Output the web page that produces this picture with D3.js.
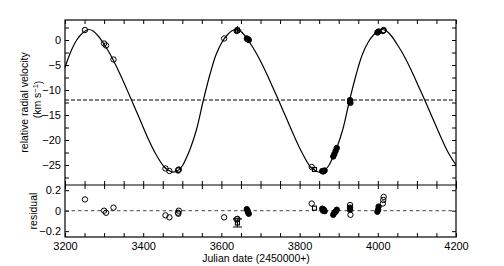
<!DOCTYPE html>
<html>
<head>
<meta charset="utf-8">
<script src="https://cdn.jsdelivr.net/npm/d3@7"></script>
<style>
  body { margin: 0; background: #fff; }
  svg text { font-family: "Liberation Sans", Arial, sans-serif; fill: #000; }
</style>
</head>
<body>
<div id="chart"></div>
<script>
'use strict';

// tick labels
const dateTicks = [3200, 3400, 3600, 3800, 4000, 4200];
const velTicks = [0, -5, -10, -15, -20, -25];
const resTicks = [0.2, 0, -0.2];
const systemicVel = -12;

// orbit fit
const modelDate = [3200, 3215, 3230, 3245, 3260, 3272, 3285, 3298, 3310, 3322, 3340, 3355, 3370, 3390, 3410,
  3432, 3454, 3464, 3474, 3487, 3499, 3512, 3521, 3536, 3554, 3571, 3586, 3601, 3616, 3626, 3636, 3648,
  3661, 3674, 3686, 3698, 3716, 3731, 3746, 3766, 3786, 3806, 3828, 3838, 3848, 3861, 3873, 3886, 3895,
  3910, 3928, 3945, 3960, 3975, 3990, 4000, 4010, 4022, 4035, 4048, 4060, 4072, 4090, 4105, 4120, 4140,
  4160, 4180, 4200];
const modelVel = [-5.5, -2.3, 0.0, 1.4, 2.1, 1.8, 0.8, -0.6, -2.1, -3.8, -6.7, -9.3, -12.0, -15.6, -19.3,
  -22.8, -25.4, -26.0, -26.4, -26.2, -25.3, -23.3, -21.6, -18.0, -12.0, -6.8, -3.0, -0.5, 1.1, 1.8, 2.1, 1.8,
  0.8, -0.7, -2.2, -3.9, -6.8, -9.4, -12.0, -15.6, -19.2, -22.5, -25.4, -26.0, -26.4, -26.2, -25.3, -23.3, -21.6,
  -18.0, -12.0, -6.8, -3.0, -0.5, 1.1, 1.8, 2.1, 1.8, 0.8, -0.7, -2.2, -3.9, -6.8, -9.4, -12.0, -15.6,
  -19.2, -22.5, -25.0];

// observations
const obsDate = [3251, 3300, 3305, 3324, 3457, 3467, 3489, 3490, 3491, 3607, 3639, 3641,
  3665, 3667, 3668, 3670, 3831, 3858, 3860, 3862, 3864, 3886, 3889, 3892, 3895,
  3929, 3929, 3929, 3930, 3999, 4001, 4002, 4013, 4014, 4015];
const obsVel = [2.0, -0.7, -1.1, -3.9, -25.7, -26.2, -26.1, -26.0, -25.9, 0.3, 1.8, 1.9,
  0.3, 0.2, 0.1, 0.0, -25.4, -26.2, -26.3, -26.2, -26.1, -23.3, -22.8, -22.2, -21.6,
  -12.0, -12.2, -12.4, -12.6, 1.5, 1.6, 1.7, 1.8, 1.9, 2.0];
const obsRes = [0.11, 0.0, -0.02, 0.03, -0.045, -0.065, -0.02, -0.03, 0.0, -0.065, -0.085, -0.08,
  0.015, 0.0, -0.015, -0.03, 0.07, 0.02, 0.0, 0.01, -0.005, -0.04, -0.02, -0.01, 0.01,
  0.055, 0.03, 0.01, -0.04, -0.01, 0.01, 0.04, 0.07, 0.105, 0.135];
const obsFilled = [0, 0, 0, 0, 0, 0, 0, 0, 0, 0, 0, 0,
  1, 1, 1, 1, 0, 1, 1, 1, 1, 1, 1, 1, 1,
  0, 1, 1, 0, 1, 1, 1, 0, 0, 0];

// second instrument (squares, with error bars)
const sqDate = [3641, 3838];
const sqVel = [2.0, -25.9];
const sqRes = [-0.12, 0.025];
const sqErrVel = [0.8, 0];
const sqErrRes = [0.04, 0];

(function() {

  const W = 504, H = 266;
  const left = 65, right = 456, top = 20, mid = 185, bottom = 237;

  const svg = d3.select('#chart').append('svg')
    .attr('width', W)
    .attr('height', H);

  let x = d3.scaleLinear().domain([3200, 4200]).range([left, right]);
  let yV = d3.scaleLinear().domain([-29, 4]).range([mid, top]);
  let yR = d3.scaleLinear().domain([-0.257, 0.251]).range([bottom, mid]);

  let dateMinor = d3.range(3200, 4201, 50);
  let velMinor = d3.range(-27.5, 3, 2.5);

  // ticks, all pointing inward
  function ticks(g, axis) {
    g.call(axis);
    g.select('.domain').remove();
    g.selectAll('.tick line').attr('stroke', '#000');
  }
  function noLabels(g) { g.selectAll('text').remove(); }
  let minus = d => d < 0 ? '\u2212' + Math.abs(d) : d;

  svg.append('g').attr('transform', `translate(0,${top})`)
    .call(ticks, d3.axisTop(x).tickValues(dateMinor).tickSize(-4)).call(noLabels);
  svg.append('g').attr('transform', `translate(0,${mid})`)
    .call(ticks, d3.axisBottom(x).tickValues(dateMinor).tickSize(-4)).call(noLabels);
  svg.append('g').attr('transform', `translate(0,${mid})`)
    .call(ticks, d3.axisTop(x).tickValues(dateMinor).tickSize(-4)).call(noLabels);
  let xAxis = svg.append('g').attr('transform', `translate(0,${bottom})`)
    .call(ticks, d3.axisBottom(x).tickValues(dateMinor).tickSize(-4).tickPadding(5)
      .tickFormat(d => dateTicks.includes(d) ? d : ''));
  xAxis.selectAll('text').style('font-size', '11px');

  svg.append('g').attr('transform', `translate(${left},0)`)
    .call(ticks, d3.axisLeft(yV).tickValues(velMinor).tickSize(-4)).call(noLabels);
  svg.append('g').attr('transform', `translate(${right},0)`)
    .call(ticks, d3.axisRight(yV).tickValues(velMinor).tickSize(-4)).call(noLabels);
  let vAxis = svg.append('g').attr('transform', `translate(${left},0)`)
    .call(ticks, d3.axisLeft(yV).tickValues(velTicks).tickSize(0).tickPadding(4).tickFormat(minus));
  vAxis.selectAll('text').style('font-size', '11px');

  svg.append('g').attr('transform', `translate(${left},0)`)
    .call(ticks, d3.axisLeft(yR).tickValues(resTicks).tickSize(-4).tickPadding(4).tickFormat(minus))
    .selectAll('text').style('font-size', '11px');
  svg.append('g').attr('transform', `translate(${right},0)`)
    .call(ticks, d3.axisRight(yR).tickValues(resTicks).tickSize(-4)).call(noLabels);

  // frames
  svg.append('rect')
    .attr('x', left).attr('y', top)
    .attr('width', right - left).attr('height', bottom - top)
    .attr('fill', 'none').attr('stroke', '#000').attr('stroke-width', 1.2);
  svg.append('line')
    .attr('x1', left).attr('x2', right)
    .attr('y1', mid).attr('y2', mid)
    .attr('stroke', '#000').attr('stroke-width', 1.2);

  // reference lines
  svg.append('line')
    .attr('x1', left).attr('x2', right)
    .attr('y1', yV(systemicVel)).attr('y2', yV(systemicVel))
    .attr('stroke', '#000').attr('stroke-dasharray', '4,2');
  svg.append('line')
    .attr('x1', left).attr('x2', right)
    .attr('y1', yR(0)).attr('y2', yR(0))
    .attr('stroke', '#444').attr('stroke-dasharray', '3.5,3');

  // fitted curve
  let model = modelDate.map((d, i) => ({ date: d, vel: modelVel[i] }));
  svg.append('path')
    .datum(model)
    .attr('fill', 'none')
    .attr('stroke', '#000')
    .attr('stroke-width', 1.2)
    .attr('d', d3.line()
      .x(d => x(d.date))
      .y(d => yV(d.vel))
      .curve(d3.curveCatmullRom.alpha(0.5)));

  let obs = obsDate.map((d, i) => ({ date: d, vel: obsVel[i], res: obsRes[i], filled: obsFilled[i] }));
  let sq = sqDate.map((d, i) => ({ date: d, vel: sqVel[i], res: sqRes[i], ev: sqErrVel[i], er: sqErrRes[i] }));

  // crossBar: draw the bar's cross stroke through the point instead of end caps
  function drawPanel(yScale, key, errKey, crossBar) {
    let g = svg.append('g');
    g.selectAll('.sq-err')
      .data(sq.filter(d => d[errKey] > 0))
      .enter()
      .append('path')
        .attr('fill', 'none')
        .attr('stroke', '#000')
        .attr('stroke-width', 1.1)
        .attr('d', d => {
          let cx = x(d.date), cy = yScale(d[key]);
          let y1 = yScale(d[key] - d[errKey]), y2 = yScale(d[key] + d[errKey]);
          if (crossBar) return `M${cx},${y1}V${y2}M${cx - 4},${cy}H${cx + 4}`;
          return `M${cx},${y1}V${y2}M${cx - 4.5},${y1}H${cx + 4.5}M${cx - 4.5},${y2}H${cx + 4.5}`;
        });
    g.selectAll('.sq')
      .data(sq)
      .enter()
      .append('rect')
        .attr('x', d => x(d.date) - 2)
        .attr('y', d => yScale(d[key]) - 2)
        .attr('width', 4)
        .attr('height', 4)
        .attr('fill', 'none')
        .attr('stroke', '#000')
        .attr('stroke-width', 1.1);
    g.selectAll('.dot')
      .data(obs)
      .enter()
      .append('circle')
        .attr('cx', d => x(d.date))
        .attr('cy', d => yScale(d[key]))
        .attr('r', 2.7)
        .attr('fill', d => d.filled ? '#000' : 'none')
        .attr('stroke', '#000')
        .attr('stroke-width', 1);
  }
  drawPanel(yV, 'vel', 'ev', true);
  drawPanel(yR, 'res', 'er', false);

  // labels
  svg.append('text')
    .attr('transform', `translate(28,${(top + mid) / 2})rotate(-90)`)
    .attr('text-anchor', 'middle')
    .style('font-size', '10.5px')
    .text('relative radial velocity');

  let unitLabel = svg.append('text')
    .attr('transform', `translate(41,${(top + mid) / 2 - 3})rotate(-90)`)
    .attr('text-anchor', 'middle')
    .style('font-size', '10.5px');
  unitLabel.append('tspan').text('(km s');
  unitLabel.append('tspan').attr('dy', '-0.45em').style('font-size', '7.5px').text('\u22121');
  unitLabel.append('tspan').attr('dy', '0.45em').text(')');

  svg.append('text')
    .attr('transform', `translate(37,${(mid + bottom) / 2})rotate(-90)`)
    .attr('text-anchor', 'middle')
    .style('font-size', '10.5px')
    .text('residual');

  svg.append('text')
    .attr('x', 256)
    .attr('y', 262)
    .attr('text-anchor', 'middle')
    .style('font-size', '10.5px')
    .text('Julian date (2450000+)');

})();
</script>
</body>
</html>
